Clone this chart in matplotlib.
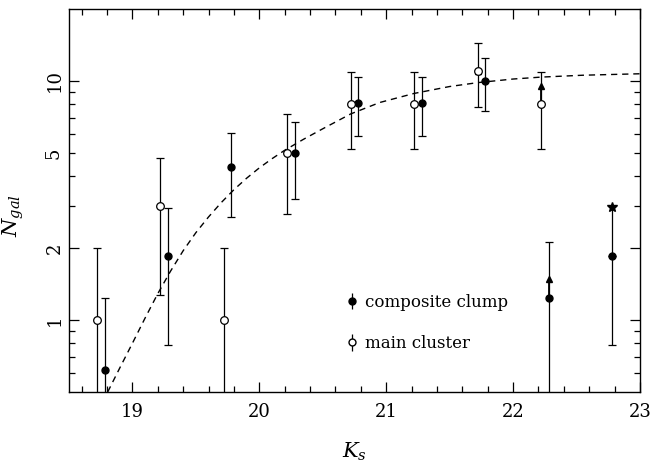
import numpy as np
import matplotlib
matplotlib.use("Agg")
import matplotlib.pyplot as plt
from matplotlib.ticker import FixedLocator, NullFormatter, FixedFormatter

plt.rcParams['font.family'] = ['DejaVu Serif']
plt.rcParams['mathtext.fontset'] = 'dejavuserif'

# main cluster (open circles)
main_k = [18.72, 19.22, 19.72, 20.22, 20.72, 21.22, 21.72, 22.22]
main_n = [1.0, 3.0, 1.0, 5.0, 8.0, 8.0, 11.0, 8.0]
main_lo = [0.1, 1.27, 0.1, 2.78, 5.2, 5.2, 7.75, 5.2]
main_hi = [2.0, 4.75, 2.0, 7.3, 10.9, 10.9, 14.4, 10.9]

# composite clump (filled circles)
comp_k = [18.78, 19.28, 19.78, 20.28, 20.78, 21.28, 21.78, 22.28, 22.78]
comp_n = [0.62, 1.86, 4.36, 5.0, 8.1, 8.1, 10.0, 1.24, 1.86]
comp_lo = [0.1, 0.785, 2.71, 3.22, 5.87, 5.87, 7.48, 0.1, 0.785]
comp_hi = [1.24, 2.95, 6.03, 6.75, 10.35, 10.35, 12.5, 2.12, 2.97]

# lower-limit arrow heads
arrow_k = [21.72, 22.22, 22.28]
arrow_n = [11.0, 9.55, 1.48]
arrow_base = [11.0, 8.0, 1.24]
star_k = [22.78]
star_n = [2.97]

# dashed model curve
curve_k = [18.805, 18.9, 19.0, 19.1, 19.2, 19.3, 19.4, 19.5, 19.6, 19.7, 19.8, 19.9,
           20.0, 20.1, 20.2, 20.35, 20.5, 20.72, 20.95, 21.22, 21.5, 21.72, 22.0,
           22.22, 22.55, 23.0]
curve_n = [0.5, 0.63, 0.80, 1.02, 1.29, 1.60, 1.95, 2.32, 2.70, 3.10, 3.51, 3.92,
           4.33, 4.73, 5.13, 5.71, 6.31, 7.28, 8.13, 8.87, 9.48, 9.84, 10.19,
           10.38, 10.57, 10.72]

fig = plt.figure(figsize=(6.54, 4.65), dpi=100)
ax = fig.add_axes([0.1055, 0.157, 0.873, 0.8236])

ax.plot(curve_k, curve_n, color='black', lw=1.0, ls=(0, (4.5, 3.5)))

mk = np.array(main_k); mn = np.array(main_n)
ck = np.array(comp_k); cn = np.array(comp_n)
clo = np.array(comp_lo); chi = np.array(comp_hi)

# the last clump point has a star instead of an upper cap
cap_ok = np.array([True] * 8 + [False])
ax.errorbar(ck[cap_ok], cn[cap_ok], yerr=[cn[cap_ok] - clo[cap_ok], chi[cap_ok] - cn[cap_ok]],
            fmt='o', color='black', ms=5, elinewidth=0.9, capsize=3, capthick=0.9)
ax.errorbar(ck[~cap_ok], cn[~cap_ok], yerr=[cn[~cap_ok] - clo[~cap_ok], [0]],
            fmt='o', color='black', ms=5, elinewidth=0.9, capsize=3, capthick=0.9)
ax.vlines(star_k, cn[~cap_ok], star_n, color='black', lw=0.9)
ax.plot(star_k, star_n, '*', color='black', ms=7)

ax.errorbar(mk, mn, yerr=[mn - np.array(main_lo), np.array(main_hi) - mn],
            fmt='o', mfc='white', mec='black', color='black', ms=5.5, mew=0.9,
            elinewidth=0.9, capsize=3, capthick=0.9)

ax.vlines(arrow_k, arrow_base, arrow_n, color='black', lw=1.3)
ax.plot(arrow_k, arrow_n, '^', color='black', ms=5)

ax.set_yscale('log')
ax.set_xlim(18.5, 23)
ax.set_ylim(0.5, 20)

ax.xaxis.set_major_locator(FixedLocator([19, 20, 21, 22, 23]))
ax.xaxis.set_minor_locator(FixedLocator(np.arange(18.6, 23.0, 0.2)))
ax.yaxis.set_major_locator(FixedLocator([1, 2, 10]))
ax.yaxis.set_major_formatter(FixedFormatter(['1', '2', '10']))
ax.yaxis.set_minor_locator(FixedLocator([0.6, 0.7, 0.8, 0.9, 3, 4, 5, 6, 7, 8, 9]))
ax.yaxis.set_minor_formatter(NullFormatter())
ax.text(-0.012, (np.log10(5) - np.log10(0.5)) / (np.log10(20) - np.log10(0.5)), '5',
        transform=ax.transAxes, rotation=90, ha='right', va='center', fontsize=13)

ax.tick_params(which='both', direction='in', top=True, right=True, width=0.9)
ax.tick_params(which='major', length=7)
ax.tick_params(which='minor', length=4.3)
ax.tick_params(axis='x', labelsize=13, pad=8)
ax.tick_params(axis='y', labelsize=13, pad=4)
for lab in ax.get_yticklabels():
    lab.set_rotation(90)
    lab.set_va('center')
for sp in ax.spines.values():
    sp.set_linewidth(1.0)

ax.set_xlabel(r'$K_s$', fontsize=15, labelpad=14)
ax.set_ylabel(r'$N_{gal}$', fontsize=15)
ax.yaxis.set_label_coords(-0.075, 0.46)

h_comp = ax.errorbar([], [], yerr=[[], []], fmt='o', color='black', ms=5, elinewidth=0.9)
h_main = ax.errorbar([], [], yerr=[[], []], fmt='o', mfc='white', mec='black', color='black',
                     ms=5, elinewidth=0.9)
ax.legend([h_comp, h_main], ['composite clump', 'main cluster'], loc='lower left',
          bbox_to_anchor=(0.455, 0.065), frameon=False, fontsize=12, handlelength=1.0,
          handletextpad=0.3, labelspacing=1.45)

fig.savefig('out.png', dpi=100)
